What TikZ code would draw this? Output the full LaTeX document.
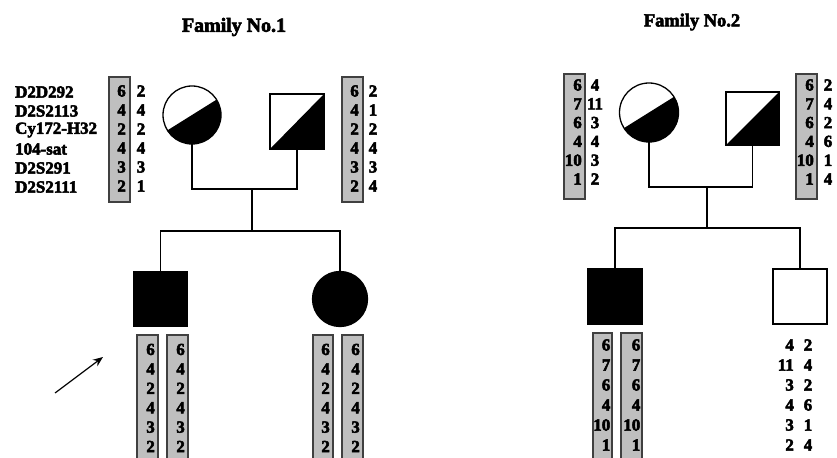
\documentclass[tikz,border=0pt]{standalone}
\usepackage{fontspec}
\setmainfont{Liberation Serif}[BoldFeatures={FakeBold=3}]
\usetikzlibrary{arrows.meta}
\begin{document}
\begin{tikzpicture}[x=1bp,y=-1bp,
  hapbar/.style={draw=black!75,fill=black!25,line width=1.1bp},
  hapfill/.style={fill=black!25},
  hapedge/.style={draw=black!75,line width=1.1bp},
  allele/.style={font=\fontsize{17}{17}\selectfont\bfseries,inner sep=0pt},
  marker/.style={font=\fontsize{17}{17}\selectfont\bfseries,inner sep=0pt,anchor=west},
  famtitle/.style={font=\fontsize{20}{20}\selectfont\bfseries,inner sep=0pt},
  person/.style={draw=black,line width=1.3bp,inner sep=0pt,outer sep=0pt},
  male/.style={person,rectangle,minimum width=54bp,minimum height=55bp},
  female/.style={person,circle,minimum size=58bp},
  affected/.style={fill=black},
  carrierF/.style={path picture={\fill (path picture bounding box.center)
      ++(38.2,-23.9) -- ++(-76.3,47.7) -- ++(23.9,38.2) -- ++(76.3,-47.7) -- cycle;}},
  carrierM/.style={path picture={\fill (path picture bounding box.south west)
      -- (path picture bounding box.south east) -- (path picture bounding box.north east) -- cycle;}},
  link/.style={draw=black,line width=1.2bp}]
\useasboundingbox (0,0) rectangle (837,458);
\fill[white] (0,0) rectangle (837,458);

% titles
\node[famtitle] (t1) at (234,27) {Family No.1};
\node[famtitle,font=\fontsize{18.5}{19}\selectfont\bfseries] (t2) at (692,22) {Family No.2};

% marker names
\foreach \m [count=\i from 0] in {D2D292,D2S2113,Cy172-H32,104-sat,D2S291,D2S2111}
  \node[marker] (mk\i) at (15,{92+19*\i}) {\m};

% ---------- Family 1 ----------
\node[female,carrierF] (m1) at (192,115) {};
\node[male,carrierM] (f1) at (297,121.5) {};
\node[male,affected] (son1) at (160.5,299) {};
\node[female,affected,minimum size=55bp] (dau1) at (340,299) {};
\coordinate (c1) at (252,189);
\coordinate (s1) at (252,231);
\draw[link] (m1.south) |- (c1) -| (f1.south);
\draw[link] (c1) -- (s1);
\draw[link] (s1) -| (son1.north);
\draw[link] (s1) -| (dau1.north);

% parental haplotypes
\path[hapbar] (109,77) rectangle (130,202);
\foreach \a [count=\i from 0] in {6,4,2,4,3,2}
  \node[allele,anchor=east] (m1a\i) at (126,{91+19*\i}) {\a};
\foreach \a [count=\i from 0] in {2,4,2,4,3,1}
  \node[allele] (m1b\i) at (141,{91+19*\i}) {\a};
\path[hapbar] (342,77) rectangle (363,202);
\foreach \a [count=\i from 0] in {6,4,2,4,3,2}
  \node[allele,anchor=east] (f1a\i) at (359,{91+19*\i}) {\a};
\foreach \a [count=\i from 0] in {2,1,2,4,3,4}
  \node[allele] (f1b\i) at (373,{91+19*\i}) {\a};

% offspring haplotypes
\foreach \xl/\xr/\id in {137/158/sa,167/188/sb,313/333/da,342/363/db}{
  \path[hapfill] (\xl,335) rectangle (\xr,462);
  \draw[hapedge] (\xl,462) -- (\xl,335) -- (\xr,335) -- (\xr,462);
  \foreach \a [count=\i from 0] in {6,4,2,4,3,2}
    \node[allele,anchor=east] (\id\i) at ({\xr-3},{349.5+19.4*\i}) {\a};
}

% proband arrow
\coordinate (arrtail) at (55,393);
\coordinate (arrtip) at (103,357);
\draw[line width=1.2bp,-{Stealth[length=10bp,width=8bp]}] (arrtail) -- (arrtip);

% ---------- Family 2 ----------
\node[female,carrierF,minimum size=59bp] (m2) at (649,112.5) {};
\node[male,carrierM,minimum width=53bp,minimum height=53bp] (f2) at (752.5,118.5) {};
\node[male,affected] (son2) at (615,296.5) {};
\node[male] (son3) at (800,296.5) {};
\coordinate (c2) at (707,187);
\coordinate (s2) at (707,228);
\draw[link] (m2.south) |- (c2) -| (f2.south);
\draw[link] (c2) -- (s2);
\draw[link] (s2) -| (son2.north);
\draw[link] (s2) -| (son3.north);

% parental haplotypes
\path[hapbar] (564,74) rectangle (585,199);
\foreach \a [count=\i from 0] in {6,7,6,4,10,1}
  \node[allele,anchor=east] (m2a\i) at (582,{85+18.8*\i}) {\a};
\foreach \a [count=\i from 0] in {4,11,3,4,3,2}
  \node[allele] (m2b\i) at (595,{85+18.8*\i}) {\a};
\path[hapbar] (796,74) rectangle (817,199);
\foreach \a [count=\i from 0] in {6,7,6,4,10,1}
  \node[allele,anchor=east] (f2a\i) at (814,{85+18.8*\i}) {\a};
\foreach \a [count=\i from 0] in {2,4,2,6,1,4}
  \node[allele] (f2b\i) at (828,{85+18.8*\i}) {\a};

% offspring haplotypes
\foreach \xl/\xr/\id in {593/612/ta,621/642/tb}{
  \path[hapfill] (\xl,333) rectangle (\xr,462);
  \draw[hapedge] (\xl,462) -- (\xl,333) -- (\xr,333) -- (\xr,462);
  \foreach \a [count=\i from 0] in {6,7,6,4,10,1}
    \node[allele,anchor=east] (\id\i) at ({\xr-1.5},{345+20*\i}) {\a};
}
\foreach \a [count=\i from 0] in {4,11,3,4,3,2}
  \node[allele,anchor=east] (ua\i) at (794,{345+20*\i}) {\a};
\foreach \a [count=\i from 0] in {2,4,2,6,1,4}
  \node[allele] (ub\i) at (808,{345+20*\i}) {\a};
\end{tikzpicture}
\end{document}
